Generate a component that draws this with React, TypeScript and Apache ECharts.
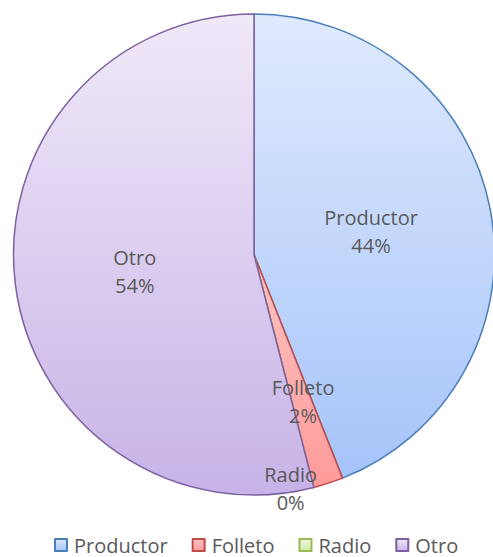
import React, { useEffect, useRef } from "react";
import * as echarts from "echarts";

const categories = ["Productor", "Folleto", "Radio", "Otro"];
const values = [44, 2, 0, 54];

const gradients = [
  ["#dfeafd", "#a6c4fa"],
  ["#ffc4c4", "#ff9a9a"],
  ["#eef7dc", "#d2ebab"],
  ["#f0e9f8", "#c7b3e7"],
];
const borders = ["#4a7ebb", "#be4b48", "#98b954", "#7d60a0"];
const labelOffsets = [
  [-4, 0],
  [11, 30],
  [6, 115],
  [3, 2],
];

export default function App() {
  const ref = useRef<HTMLDivElement>(null);
  useEffect(() => {
    document.body.style.margin = "0";
    const chart = echarts.init(ref.current!, null, { renderer: "svg" });
    const font = "'Open Sans', sans-serif";
    chart.setOption({
      animation: false,
      backgroundColor: "#ffffff",
      legend: {
        bottom: 2,
        left: 54,
        padding: 0,
        icon: "rect",
        itemWidth: 12,
        itemHeight: 12,
        itemGap: 24,
        textStyle: { color: "#595959", fontSize: 20, lineHeight: 18, fontFamily: font, padding: [0, 0, 0, 2] },
        data: categories,
      },
      series: [
        {
          type: "pie",
          center: [254, 254.5],
          radius: 240.5,
          startAngle: 90,
          clockwise: true,
          avoidLabelOverlap: false,
          label: {
            show: true,
            position: "inside",
            color: "#595959",
            fontSize: 20,
            lineHeight: 28,
            fontFamily: font,
            formatter: (p: any) => `${p.name}\n${Math.round(p.percent)}%`,
          },
          labelLine: { show: false },
          labelLayout: (p: any) => ({
            dx: labelOffsets[p.dataIndex][0],
            dy: labelOffsets[p.dataIndex][1],
          }),
          data: categories.map((name, i) => ({
            name,
            value: values[i],
            itemStyle: {
              color: new echarts.graphic.LinearGradient(0, 0, 0, 1, [
                { offset: 0, color: gradients[i][0] },
                { offset: 1, color: gradients[i][1] },
              ]),
              borderColor: borders[i],
              borderWidth: 1.5,
            },
          })),
        },
      ],
    });
    return () => chart.dispose();
  }, []);
  return <div ref={ref} style={{ width: 493, height: 557 }} />;
}
